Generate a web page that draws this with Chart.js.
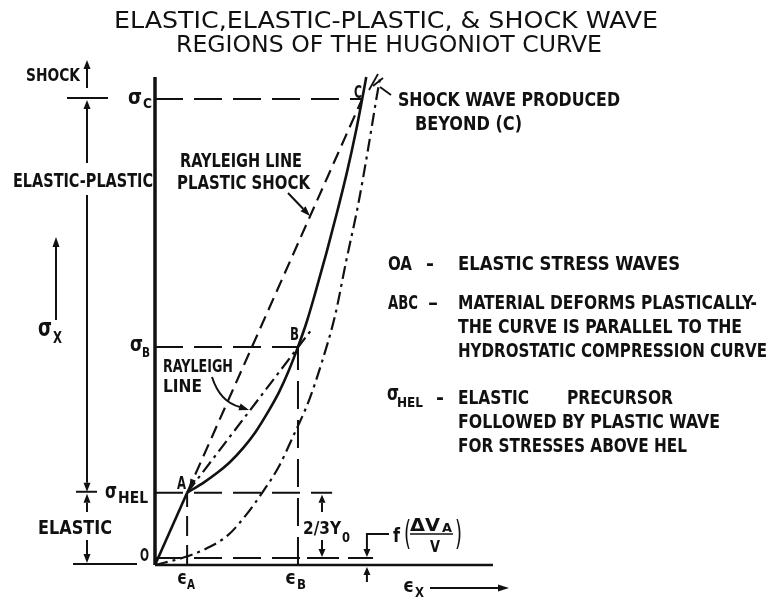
<!DOCTYPE html>
<html>
<head>
<meta charset="utf-8">
<script src="https://cdn.jsdelivr.net/npm/chart.js@4/dist/chart.umd.min.js"></script>
<style>
  html, body { margin: 0; padding: 0; background: #fff; }
  canvas { display: block; }
</style>
</head>
<body>
<canvas id="hugoniot" width="768" height="598"></canvas>
<script>
// ---- Values (strain ε in % of axis length, stress σ in % of σC) ----
// Key states on the Hugoniot: O, A (HEL), B, C
const stateNames = ['O', 'A', 'B', 'C'];
const stateEps = [0, 9.5, 42.3, 61.3];
const stateSig = [0, 15.5, 46.8, 100];

// Elastic branch O-A
const elasticEps = [0, 9.5];
const elasticSig = [0, 15.5];

// Plastic branch A-B-C of the Hugoniot (solid)
const hugoniotEps = [9.5, 14.6, 18.8, 22.2, 26.3, 29.7, 33.4, 36.7, 39.4, 42.3, 44.9, 47.5, 50.8, 53.9, 56.8, 59.4, 61.3, 62.5];
const hugoniotSig = [15.5, 17.8, 20.0, 22.1, 25.3, 28.5, 32.8, 37.1, 41.4, 46.8, 52.2, 58.6, 67.2, 75.8, 84.3, 92.9, 100, 104.7];

// Hydrostatic compression curve (dash-dot)
const hydroEps = [0, 8.9, 14.8, 21.6, 26.9, 31.7, 36.4, 40.8, 45.6, 49.4, 53.3, 56.5, 60.1, 63.0, 65.7, 66.6];
const hydroSig = [0, 1.7, 3.4, 6.4, 10.7, 15.5, 20.8, 27.5, 35.4, 43.6, 53.6, 65.0, 77.3, 89.1, 100.9, 104.5];

// Rayleigh lines leaving A
const rayleighBEps = [9.5, 46.4];
const rayleighBSig = [15.5, 50.6];
const rayleighCEps = [9.5, 61.3];
const rayleighCSig = [15.5, 100];

// Offset level f(ΔVA/V) and extents of the axes
const offsetSig = 1.5;
const axisEpsMax = 100;
const axisSigMax = 104.7;

// ---- Layout ----
const W = 768, H = 598;
const ORIGIN_X = 155, ORIGIN_Y = 565;
const PX_PER_EPS = 3.38, PX_PER_SIG = 4.66;
const FONT = '"DejaVu Sans Condensed", "DejaVu Sans", sans-serif';

const pts = (xs, ys) => xs.map((v, i) => ({ x: v, y: ys[i] }));
const A = 1, B = 2, C = 3;

function line(data, width, dash, extra) {
  return Object.assign({
    data, showLine: true, borderColor: '#111', borderWidth: width,
    borderDash: dash || [], pointRadius: 0, fill: false, clip: false, tension: 0
  }, extra || {});
}

const DASH = [28, 11];
const DASHDOT = [13, 5, 3, 5];

const datasets = [
  // axes
  line(pts([0, 0], [0, axisSigMax]), 3.5),
  line(pts([0, axisEpsMax], [0, 0]), 2.6),
  // reference levels
  line(pts([0, stateEps[C]], [stateSig[C], stateSig[C]]), 2, DASH),
  line(pts([0, stateEps[B]], [stateSig[B], stateSig[B]]), 2, DASH),
  line(pts([0, 52.4], [stateSig[A], stateSig[A]]), 2, DASH),
  line(pts([0, 64.5], [offsetSig, offsetSig]), 2, DASH),
  line(pts([stateEps[A], stateEps[A]], [0, stateSig[A]]), 2, [20, 9]),
  line(pts([stateEps[B], stateEps[B]], [0, stateSig[B]]), 2, DASH),
  // curves
  line(pts(elasticEps, elasticSig), 2.6),
  line(pts(hugoniotEps, hugoniotSig), 2.6, [], { cubicInterpolationMode: 'monotone' }),
  line(pts(hydroEps, hydroSig), 2.2, DASHDOT, { cubicInterpolationMode: 'monotone' }),
  line(pts(rayleighBEps, rayleighBSig), 2.2, DASHDOT),
  line(pts(rayleighCEps, rayleighCSig), 2.2, [13, 7])
];

// text fitted into a given width; yc is the vertical centre of the capitals
function T(ctx, s, x, yc, w, size, weight) {
  ctx.font = (weight || 'bold') + ' ' + size + 'px ' + FONT;
  const m = ctx.measureText(s).width;
  ctx.save();
  ctx.translate(x, yc + 0.365 * size);
  ctx.scale(w / m, 1);
  ctx.textAlign = 'left';
  ctx.textBaseline = 'alphabetic';
  ctx.fillText(s, 0, 0);
  ctx.restore();
}

function seg(ctx, x1, y1, x2, y2, w) {
  ctx.lineWidth = w || 2;
  ctx.beginPath(); ctx.moveTo(x1, y1); ctx.lineTo(x2, y2); ctx.stroke();
}

// shaft from (x1,y1) to (x2,y2) with a filled head at (x2,y2)
function arrow(ctx, x1, y1, x2, y2, len, half, w) {
  len = len || 9; half = half || 3.5;
  const a = Math.atan2(y2 - y1, x2 - x1);
  const bx = x2 - len * Math.cos(a), by = y2 - len * Math.sin(a);
  seg(ctx, x1, y1, bx, by, w || 2);
  head(ctx, x2, y2, a, len, half);
}

function head(ctx, x, y, a, len, half) {
  const bx = x - len * Math.cos(a), by = y - len * Math.sin(a);
  ctx.beginPath();
  ctx.moveTo(x, y);
  ctx.lineTo(bx + half * Math.sin(a), by - half * Math.cos(a));
  ctx.lineTo(bx - half * Math.sin(a), by + half * Math.cos(a));
  ctx.closePath();
  ctx.fill();
}

const annotate = {
  id: 'annotate',
  afterDatasetsDraw(chart) {
    const { ctx, scales: { x, y } } = chart;
    const px = v => x.getPixelForValue(v);
    const py = v => y.getPixelForValue(v);
    ctx.save();
    ctx.fillStyle = '#111';
    ctx.strokeStyle = '#111';
    ctx.lineCap = 'butt';

    // title
    T(ctx, 'ELASTIC,ELASTIC-PLASTIC, & SHOCK WAVE', 114, 20, 544, 23, 'normal');
    T(ctx, 'REGIONS OF THE HUGONIOT CURVE', 176, 44, 426, 23, 'normal');

    // regime bar on the left
    const bx = 87;
    T(ctx, 'SHOCK', 26, 75, 54, 17);
    arrow(ctx, bx, 88, bx, 60, 9, 3.5);
    seg(ctx, 67, py(stateSig[C]) - 1, 108, py(stateSig[C]) - 1, 2);
    arrow(ctx, bx, 163, bx, py(stateSig[C]) + 1, 9, 3.5);
    T(ctx, 'ELASTIC-PLASTIC', 13, 180, 140, 20);
    arrow(ctx, bx, 195, bx, py(stateSig[A]) - 1, 9, 3.5);
    seg(ctx, 76, py(stateSig[A]) - 1, 97, py(stateSig[A]) - 1, 2);
    arrow(ctx, bx, 512, bx, py(stateSig[A]) + 1, 9, 3.5);
    T(ctx, 'ELASTIC', 38, 527, 74, 20);
    arrow(ctx, bx, 540, bx, py(0) - 2, 9, 3.5);
    seg(ctx, 73, py(0) - 1, 137, py(0) - 1, 2);

    // σx axis title
    T(ctx, 'σ', 38, 327, 14, 24);
    T(ctx, 'X', 53, 338, 9, 15);
    arrow(ctx, 56, 320, 56, 237, 10, 3.5);

    // stress labels
    T(ctx, 'σ', 128, py(stateSig[C]) - 3, 14, 22);
    T(ctx, 'C', 143, py(stateSig[C]) + 4, 9, 14);
    T(ctx, 'σ', 130, py(stateSig[B]) - 4, 13, 22);
    T(ctx, 'B', 142, py(stateSig[B]) + 5, 8, 14);
    T(ctx, 'σ', 105, py(stateSig[A]) - 3, 12, 22);
    T(ctx, 'HEL', 118, py(stateSig[A]) + 5, 30, 15);
    T(ctx, 'O', 140, 554, 9, 18);

    // strain labels
    T(ctx, 'ϵ', 177, 577, 10, 19);
    T(ctx, 'A', 187, 584, 8, 14);
    T(ctx, 'ϵ', 285, 577, 11, 19);
    T(ctx, 'B', 297, 584, 9, 14);
    T(ctx, 'ϵ', 403, 585, 11, 19);
    T(ctx, 'X', 415, 592, 9, 14);
    arrow(ctx, 430, 588, 509, 588, 11, 3.5);

    // state letters
    T(ctx, 'A', 177, py(stateSig[A]) - 10, 9, 18);
    T(ctx, 'B', 290, py(stateSig[B]) - 13, 9, 18);
    T(ctx, 'C', 354, py(stateSig[C]) - 8, 8, 18);

    // Rayleigh lines converge on A
    const aAng = Math.atan2(py(stateSig[A]) - py(rayleighCSig[1]), px(stateEps[A]) - px(rayleighCEps[1]));
    head(ctx, px(stateEps[A]) + 2, py(stateSig[A]) - 4, aAng, 10, 3);

    // Rayleigh line (plastic shock) label
    T(ctx, 'RAYLEIGH LINE', 180, 160, 122, 19);
    T(ctx, 'PLASTIC SHOCK', 177, 182, 133, 19);
    arrow(ctx, 288, 193, 310, 216, 10, 3.5);

    // Rayleigh line A-B label with curved pointer
    T(ctx, 'RAYLEIGH', 163, 365, 70, 18);
    T(ctx, 'LINE', 163, 385, 39, 18);
    ctx.lineWidth = 2;
    ctx.beginPath();
    ctx.moveTo(212, 377);
    ctx.quadraticCurveTo(220, 402, 240, 407);
    ctx.stroke();
    head(ctx, 249, 410, Math.atan2(3, 9), 10, 3.5);

    // break marks at the top of the curves and note on C
    seg(ctx, 369, 90, 378, 74, 1.8);
    seg(ctx, 373, 86, 383, 78, 1.8);
    seg(ctx, 380, 87, 391, 95, 1.8);
    T(ctx, 'SHOCK WAVE PRODUCED', 398, 99, 222, 19);
    T(ctx, 'BEYOND (C)', 415, 123, 107, 19);

    // 2/3 Y0 dimension between σHEL and the offset level
    const dx = 322;
    seg(ctx, 307, py(offsetSig), 335, py(offsetSig), 2);
    arrow(ctx, dx, 512, dx, py(stateSig[A]) + 2, 8, 3.5);
    arrow(ctx, dx, 540, dx, py(offsetSig) - 1, 8, 3.5);
    T(ctx, '2/3Y', 303, 527, 38, 18);
    T(ctx, '0', 342, 537, 8, 14);

    // f(ΔVA/V) offset
    const fx = px(62.7);
    seg(ctx, 389, 534, fx, 534, 2);
    arrow(ctx, fx, 533, fx, py(offsetSig) - 1, 8, 3.5);
    seg(ctx, 348, py(offsetSig), 373, py(offsetSig), 2);
    arrow(ctx, fx, 582, fx, py(0) + 2, 8, 3.5);
    T(ctx, 'f', 393, 535, 7, 20);
    T(ctx, '(', 404, 533, 7, 34, 'normal');
    T(ctx, 'ΔV', 410, 525, 30, 17);
    T(ctx, 'A', 442, 527, 10, 13);
    seg(ctx, 410, 534, 453, 534, 1.6);
    T(ctx, 'V', 430, 546, 10, 16);
    T(ctx, ')', 455, 533, 7, 34, 'normal');

    // explanatory notes
    const nx = 458;
    T(ctx, 'OA', 388, 263, 24, 19);
    T(ctx, '-', 426, 263, 8, 19);
    T(ctx, 'ELASTIC STRESS WAVES', nx, 263, 222, 19);
    T(ctx, 'ABC', 388, 302, 30, 19);
    T(ctx, '–', 428, 302, 10, 19);
    T(ctx, 'MATERIAL DEFORMS PLASTICALLY-', nx, 302, 299, 19);
    T(ctx, 'THE CURVE IS PARALLEL TO THE', nx, 326, 284, 19);
    T(ctx, 'HYDROSTATIC COMPRESSION CURVE', nx, 350, 309, 19);
    T(ctx, 'σ', 387, 392, 12, 22);
    T(ctx, 'HEL', 397, 402, 26, 14);
    T(ctx, '-', 436, 397, 8, 19);
    T(ctx, 'ELASTIC', nx, 397, 71, 19);
    T(ctx, 'PRECURSOR', 567, 397, 106, 19);
    T(ctx, 'FOLLOWED BY PLASTIC WAVE', nx, 421, 262, 19);
    T(ctx, 'FOR STRESSES ABOVE HEL', nx, 445, 229, 19);

    ctx.restore();
  }
};

new Chart(document.getElementById('hugoniot'), {
  type: 'scatter',
  data: { datasets },
  options: {
    responsive: false,
    animation: false,
    devicePixelRatio: 1,
    layout: { padding: 0 },
    plugins: { legend: { display: false }, tooltip: { enabled: false } },
    scales: {
      x: { type: 'linear', display: false, min: -ORIGIN_X / PX_PER_EPS, max: (W - ORIGIN_X) / PX_PER_EPS },
      y: { type: 'linear', display: false, min: -(H - ORIGIN_Y) / PX_PER_SIG, max: ORIGIN_Y / PX_PER_SIG }
    }
  },
  plugins: [annotate]
});
</script>
</body>
</html>
